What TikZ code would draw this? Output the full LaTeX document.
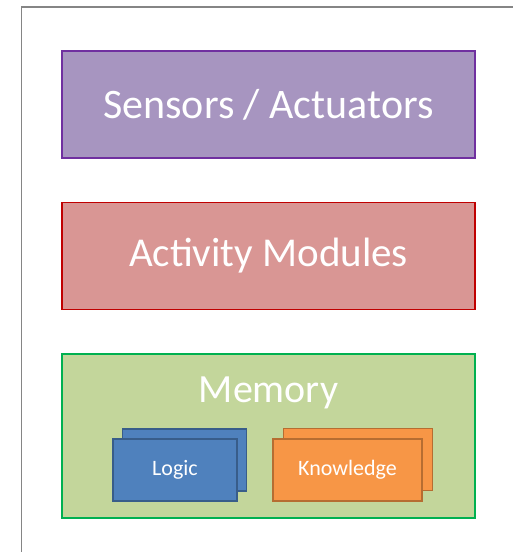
\documentclass[tikz,border=0pt]{standalone}
\usepackage{fontspec}
\setmainfont{Carlito}
\usetikzlibrary{positioning}
\definecolor{sensfill}{HTML}{A795C0}
\definecolor{sensline}{HTML}{7030A0}
\definecolor{actfill}{HTML}{D99694}
\definecolor{actline}{HTML}{C00000}
\definecolor{memfill}{HTML}{C3D69B}
\definecolor{memline}{HTML}{00B050}
\definecolor{logicfill}{HTML}{4F81BD}
\definecolor{logicline}{HTML}{385D8A}
\definecolor{knowfill}{HTML}{F79646}
\definecolor{knowline}{HTML}{B66D31}
\tikzset{
    frame/.style = {line width=1.6pt, draw=black!48},
    layer/.style = {rectangle, line width=1.5pt, minimum width=413pt, minimum height=107pt, text=white, font=\fontsize{41}{49}\selectfont},
    card/.style = {rectangle, line width=1.2pt, minimum width=124pt, minimum height=62pt, text=white, font=\fontsize{22}{26}\selectfont},
    logiccard/.style = {card, draw=logicline, fill=logicfill},
    knowcard/.style = {card, draw=knowline, fill=knowfill, minimum width=149pt}
}

\begin{document}
\begin{tikzpicture}[x=1pt,y=-1pt]
  \useasboundingbox (0,0) rectangle (513,552);
  % outer frame, only left and top edges show
  \coordinate (fbl) at (21.5,553);
  \coordinate (ftl) at (21.5,7);
  \coordinate (ftr) at (514,7);
  \draw[frame] (fbl) -- (ftl) -- (ftr);

  \node[layer, draw=sensline, fill=sensfill, font=\fontsize{42}{50}\selectfont] (sensors) at (268.5,104.5) {Sensors / Actuators};
  \node[layer, draw=actline, fill=actfill] (activity) at (268.5,256) {Activity Modules};
  \node[layer, draw=memline, fill=memfill, minimum height=164pt] (memory) at (268.5,436) {};
  \node[text=white, font=\fontsize{40}{48}\selectfont] (memlabel) at (268.5,393) {Memory};

  % stacked cards
  \node[logiccard] (logicback) at (184.5,460) {};
  \node[logiccard] (logic) at (175,470) {Logic};
  \node[knowcard] (knowback) at (358,459.5) {};
  \node[knowcard] (knowledge) at (347.5,470) {Knowledge};
\end{tikzpicture}
\end{document}
